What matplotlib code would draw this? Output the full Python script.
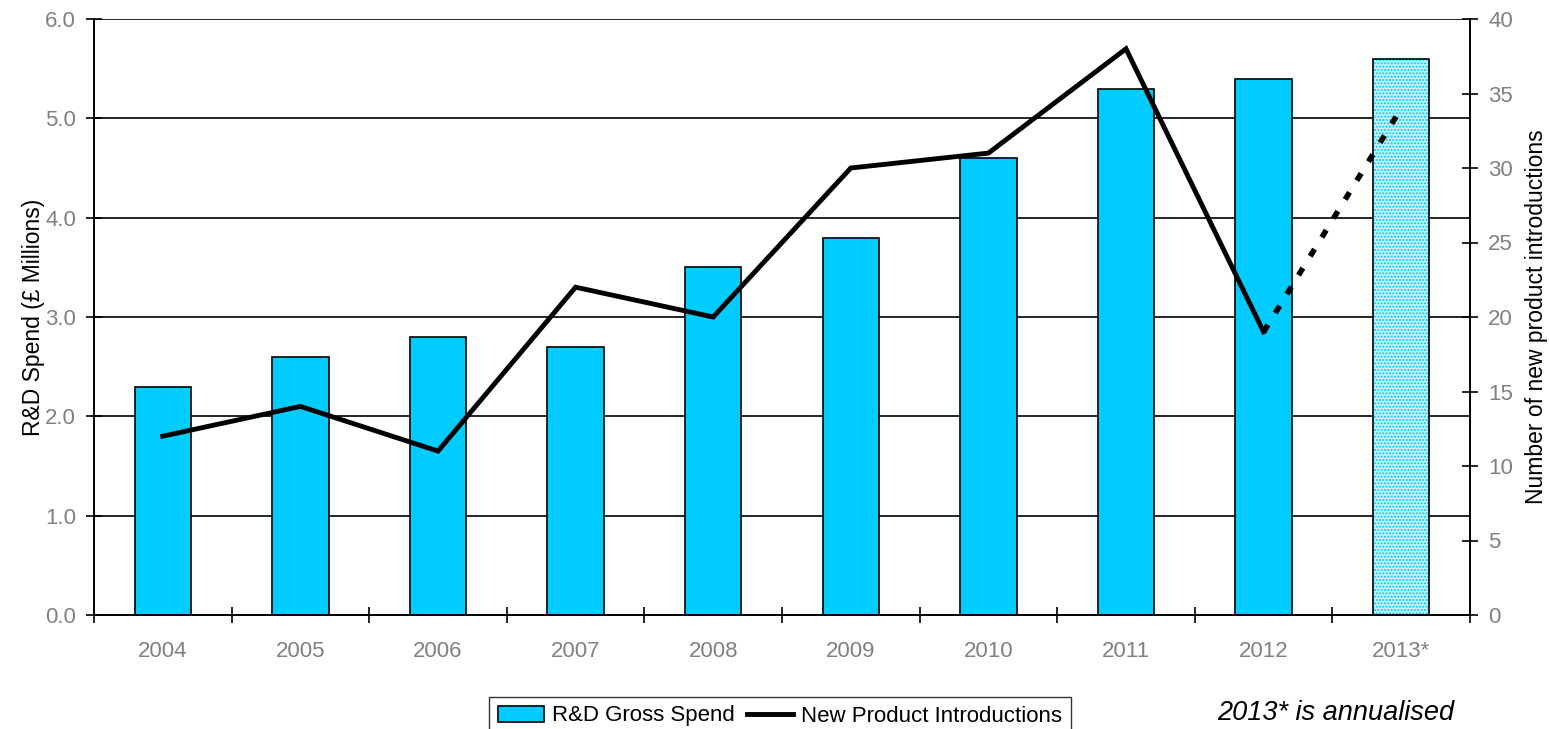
import matplotlib.pyplot as plt
import numpy as np
from matplotlib.patches import Patch
from matplotlib.lines import Line2D

plt.rcParams['font.family'] = ['Liberation Sans', 'DejaVu Sans']

years = ['2004', '2005', '2006', '2007', '2008', '2009', '2010', '2011', '2012', '2013*']
spend = [2.3, 2.6, 2.8, 2.7, 3.5, 3.8, 4.6, 5.3, 5.4, 5.6]
products = [12, 14, 11, 22, 20, 30, 31, 38, 19, 34]

grey = '#808080'
cyan = '#00ccff'

fig = plt.figure(figsize=(15.49, 7.29), dpi=100)
ax = fig.add_axes([94/1549, 1-615/729, 1376/1549, 596/729])
ax2 = ax.twinx()

x = np.arange(len(years))
ax.set_axisbelow(True)
ax.yaxis.grid(True, color='black', linewidth=1.2)

# actual years solid, annualised year hatched
ax.bar(x[:-1], spend[:-1], width=0.41, color=cyan, edgecolor='black', linewidth=1.2, zorder=2)
ax.bar(x[-1], spend[-1], width=0.41, color='#c8f2fd', edgecolor=cyan, linewidth=0, hatch='.....', zorder=2)
ax.bar(x[-1], spend[-1], width=0.41, color='none', edgecolor='black', linewidth=1.2, zorder=3)

ax2.plot(x[:-1], products[:-1], color='black', linewidth=3.5, solid_joinstyle='miter', zorder=4)
ax2.plot(x[-2:], products[-2:], color='black', linewidth=4, linestyle=(0, (1.5, 2.5)), zorder=4)

ax.set_xlim(-0.5, len(years) - 0.5)
ax.set_ylim(0, 6)
ax.set_yticks(np.arange(0, 6.01, 1.0))
ax.set_yticklabels([f'{v:.1f}' for v in np.arange(0, 6.01, 1.0)])
ax2.set_ylim(0, 40)
ax2.set_yticks(range(0, 41, 5))

ax.set_xticks(x)
ax.set_xticklabels(years)
ax.set_xticks(np.arange(-0.5, len(years), 1.0), minor=True)
ax.tick_params(axis='x', which='major', length=0, pad=19, labelsize=16, labelcolor=grey)
ax.tick_params(axis='x', which='minor', direction='inout', length=12, width=1.2)
ax.tick_params(axis='y', direction='inout', length=12, width=1.2, labelsize=16, labelcolor=grey, pad=7)
ax2.tick_params(axis='y', direction='inout', length=12, width=1.2, labelsize=16, labelcolor=grey, pad=7)

for a in (ax, ax2):
    a.spines['top'].set_visible(False)
    for s in ('left', 'right', 'bottom'):
        a.spines[s].set_linewidth(1.2)

ax.set_ylabel('R&D Spend (£ Millions)', fontsize=16.5, labelpad=0)
ax2.set_ylabel('Number of new product introductions', fontsize=16.5, labelpad=9)

handles = [Patch(facecolor=cyan, edgecolor='black', linewidth=1.2),
           Line2D([0], [0], color='black', linewidth=3.5)]
fig.legend(handles, ['R&D Gross Spend', 'New Product Introductions'],
           loc='center', bbox_to_anchor=(780/1549, 1-716/729), ncol=2, fontsize=16,
           frameon=True, fancybox=False, edgecolor='black', handlelength=2.07,
           handletextpad=0.36, columnspacing=0.54, borderpad=0.4, borderaxespad=0)
fig.text(1336/1549, 1-713/729, '2013* is annualised', fontsize=19.5, style='italic',
         ha='center', va='center')

fig.savefig('out.png', dpi=100)
